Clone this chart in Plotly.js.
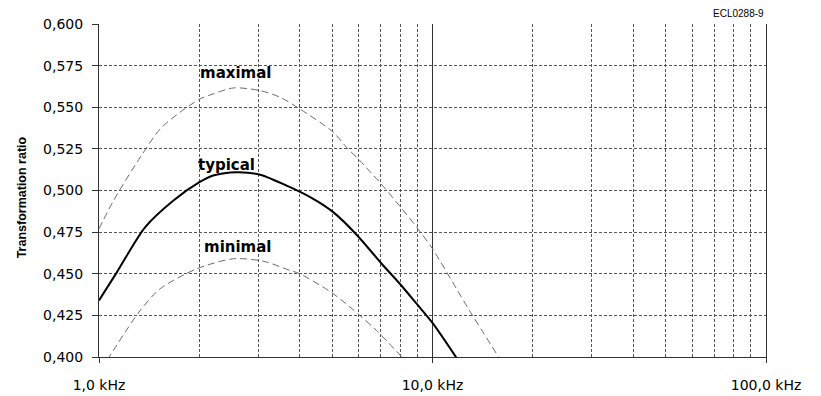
<!DOCTYPE html>
<html>
<head>
<meta charset="utf-8">
<script src="https://cdn.plot.ly/plotly-3.0.1.min.js"></script>
<style>html,body{margin:0;padding:0;background:#fff;}#chart{width:821px;height:396px;}</style>
</head>
<body>
<div id="chart"></div>
<script>
// Frequency in kHz and transformation ratio
const typFreq = [1.0, 1.132, 1.376, 1.672, 2.0, 2.2, 2.59, 3.04, 3.74, 4.39, 5.04, 5.95, 7.04, 7.98, 8.96, 10.0, 11.8];
const typVal  = [0.434, 0.451, 0.478, 0.494, 0.505, 0.509, 0.511, 0.5095, 0.502, 0.495, 0.487, 0.473, 0.456, 0.444, 0.432, 0.4205, 0.3995];

const maxFreq = [1.0, 1.106, 1.33, 1.526, 1.75, 2.01, 2.2, 2.53, 3.04, 3.49, 4.0, 5.04, 5.52, 6.05, 6.94, 7.8, 8.96, 10.0, 11.8, 12.9, 15.9];
const maxVal  = [0.477, 0.494, 0.520, 0.537, 0.547, 0.555, 0.558, 0.5616, 0.560, 0.556, 0.549, 0.535, 0.526, 0.518, 0.505, 0.493, 0.478, 0.465, 0.441, 0.428, 0.399];

const minFreq = [1.057, 1.33, 1.526, 1.966, 2.53, 3.11, 3.74, 4.0, 5.04, 6.05, 6.79, 8.18];
const minVal  = [0.398, 0.428, 0.441, 0.453, 0.459, 0.4575, 0.452, 0.450, 0.438, 0.425, 0.416, 0.399];

const xTickVals = [1, 10, 100];
const xTickText = ['1,0 kHz', '10,0 kHz', '100,0 kHz'];
const xMinorVals = [2,3,4,5,6,7,8,9,20,30,40,50,60,70,80,90];

const curveLabels = ['maximal', 'typical', 'minimal'];
const labelFreq = [1.975, 1.96, 2.04];
const labelVal = [0.5704, 0.5156, 0.4659];

const yTitle = 'Transformation ratio';
const figureCode = 'ECL0288-9';

const gridCol = '#555555';
const traces = [
  {x: maxFreq, y: maxVal, mode: 'lines', line: {color: '#6a6a6a', width: 1, dash: '7px,4px', shape: 'spline', smoothing: 0.8}, hoverinfo: 'skip'},
  {x: minFreq, y: minVal, mode: 'lines', line: {color: '#6a6a6a', width: 1, dash: '7px,4px', shape: 'spline', smoothing: 0.8}, hoverinfo: 'skip'},
  {x: typFreq, y: typVal, mode: 'lines', line: {color: '#000000', width: 2, shape: 'spline', smoothing: 0.8}, hoverinfo: 'skip'}
];

const annotations = curveLabels.map((t, i) => ({
  x: Math.log10(labelFreq[i]), y: labelVal[i], xref: 'x', yref: 'y',
  text: t, showarrow: false, xanchor: 'left', yanchor: 'middle',
  font: {family: 'DejaVu Sans, sans-serif', size: 15, color: '#000', weight: 'bold'}
}));
annotations.push({
  x: 1.0, y: 1.032, xref: 'paper', yref: 'paper', text: figureCode, showarrow: false,
  xanchor: 'right', yanchor: 'middle',
  font: {family: 'Liberation Sans, Arial, sans-serif', size: 10, color: '#000'}
});
annotations.push({
  x: -0.1149, y: 0.4805, xref: 'paper', yref: 'paper', text: yTitle, showarrow: false,
  textangle: -90, xanchor: 'center', yanchor: 'middle',
  font: {family: 'Liberation Sans, Arial, sans-serif', size: 12.5, color: '#000', weight: 'bold'}
});

const layout = {
  width: 821, height: 396,
  margin: {l: 99, r: 55, t: 24, b: 39},
  paper_bgcolor: '#ffffff', plot_bgcolor: '#ffffff',
  showlegend: false,
  separators: ', ',
  font: {family: 'DejaVu Sans, sans-serif', color: '#000'},
  xaxis: {
    type: 'log', range: [0, 2],
    tickvals: xTickVals, ticktext: xTickText,
    ticks: 'outside', ticklen: 5, tickcolor: '#333', tickwidth: 1,
    ticklabelstandoff: 10,
    showgrid: true, gridcolor: '#333333', gridwidth: 1,
    showline: true, linecolor: '#333333', linewidth: 1, mirror: false,
    tickfont: {family: 'DejaVu Sans, sans-serif', size: 14, color: '#000'},
    minor: {tickvals: xMinorVals, showgrid: true, gridcolor: gridCol, griddash: '3px,2px', gridwidth: 1, ticks: ''},
    zeroline: false, fixedrange: true
  },
  yaxis: {
    range: [0.4, 0.6], dtick: 0.025, tick0: 0.4, tickformat: '.3f',
    ticks: 'outside', ticklen: 6, tickcolor: '#333', tickwidth: 1,
    ticklabelstandoff: 6,
    showgrid: true, gridcolor: gridCol, griddash: '3px,2px', gridwidth: 1,
    showline: true, linecolor: '#333333', linewidth: 1, mirror: true,
    tickfont: {family: 'DejaVu Sans, sans-serif', size: 14, color: '#000'},
    zeroline: false, fixedrange: true
  },
  annotations: annotations
};

Plotly.newPlot('chart', traces, layout, {displayModeBar: false, staticPlot: true});
</script>
</body>
</html>
